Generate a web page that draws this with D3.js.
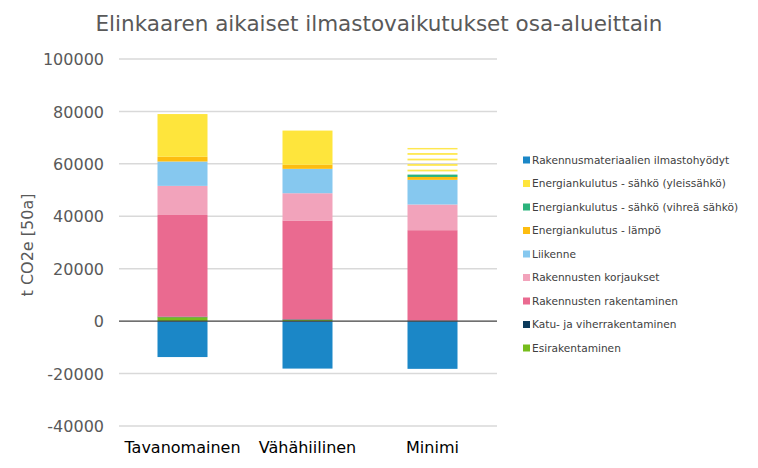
<!DOCTYPE html>
<html><head><meta charset="utf-8">
<script src="https://cdn.jsdelivr.net/npm/d3@7"></script>
<style>body{margin:0;background:#fff}svg{display:block}</style>
</head><body>
<svg id="c" width="758" height="468"></svg>
<script>
const categories = ["Tavanomainen", "Vähähiilinen", "Minimi"];
const esirakentaminen = [1500, 500, 100];
const katuJaViher = [200, 200, 100];
const rakentaminen = [38800, 37700, 34500];
const korjaukset = [11100, 10400, 9800];
const liikenne = [9300, 9300, 9400];
const lampo = [1800, 1550, 1100];
const vihreaSahko = [0, 0, 900];
const yleisSahko = [16300, 13050, 10200];
const ilmastohyodyt = [-13700, -18100, -18200];
const yTicks = [-40000, -20000, 0, 20000, 40000, 60000, 80000, 100000];

const seriesDefs = [
  {key: "esi", name: "Esirakentaminen", values: esirakentaminen, color: "#76bd1d"},
  {key: "katu", name: "Katu- ja viherrakentaminen", values: katuJaViher, color: "#0c3a5b"},
  {key: "rak", name: "Rakennusten rakentaminen", values: rakentaminen, color: "#ea6a90"},
  {key: "kor", name: "Rakennusten korjaukset", values: korjaukset, color: "#f2a3bb"},
  {key: "lii", name: "Liikenne", values: liikenne, color: "#86c8ef"},
  {key: "lam", name: "Energiankulutus - lämpö", values: lampo, color: "#fdbd10"},
  {key: "vih", name: "Energiankulutus - sähkö (vihreä sähkö)", values: vihreaSahko, color: "#2bb37c"},
  {key: "yle", name: "Energiankulutus - sähkö (yleissähkö)", values: yleisSahko, color: "#fee53c"},
  {key: "hyo", name: "Rakennusmateriaalien ilmastohyödyt", values: ilmastohyodyt, color: "#1b87c7"}
];

const rows = categories.map((c, i) => {
  const r = {cat: c};
  seriesDefs.forEach(s => r[s.key] = s.values[i]);
  return r;
});

const svg = d3.select("#c");
const font = "DejaVu Sans, Verdana, sans-serif";

const x = d3.scaleBand().domain(categories).range([120, 495]).paddingInner(0.6).paddingOuter(0.3);
const y = d3.scaleLinear().domain([-40000, 100000]).range([426, 59]);

const defs = svg.append("defs");

// gridlines
svg.append("g").selectAll("line").data(yTicks.filter(t => t !== 0)).join("line")
  .attr("x1", 119).attr("x2", 497)
  .attr("y1", d => y(d)).attr("y2", d => y(d))
  .attr("stroke", "#d9d9d9").attr("stroke-width", 1.5);

// y tick labels via axis
const yAxis = svg.append("g").attr("transform", "translate(104,0)")
  .call(d3.axisLeft(y).tickValues(yTicks).tickSize(0).tickPadding(0).tickFormat(d => String(d)));
yAxis.select(".domain").remove();
yAxis.selectAll("text").attr("font-family", font).attr("font-size", 16).attr("fill", "#595959").attr("dy", "0.35em");

const stack = d3.stack().keys(seriesDefs.map(s => s.key)).offset(d3.stackOffsetDiverging);
const stacked = stack(rows);

stacked.forEach((layer, li) => {
  const s = seriesDefs[li];
  layer.forEach((d, i) => {
    const y0 = y(d[0]), y1 = y(d[1]);
    const h = Math.abs(y0 - y1);
    if (h <= 0) return;
    const top = Math.min(y0, y1);
    let fill = s.color;
    if (s.key === "yle" && categories[i] === "Minimi") {
      const pid = "stripe" + i;
      const p = defs.append("pattern").attr("id", pid).attr("patternUnits", "userSpaceOnUse")
        .attr("x", 0).attr("y", top - 0.2).attr("width", 10).attr("height", 5.5);
      p.append("rect").attr("width", 10).attr("height", 1.6).attr("fill", s.color);
      fill = "url(#" + pid + ")";
    }
    svg.append("rect")
      .attr("x", x(d.data.cat)).attr("width", x.bandwidth())
      .attr("y", top).attr("height", h)
      .attr("fill", fill);
  });
});

// zero line
svg.append("line").attr("x1", 119).attr("x2", 497).attr("y1", y(0)).attr("y2", y(0))
  .attr("stroke", "#404040").attr("stroke-width", 1.2);

// x labels
const xAxis = svg.append("g").attr("transform", "translate(0,447)")
  .call(d3.axisBottom(x).tickSize(0).tickPadding(0));
xAxis.select(".domain").remove();
xAxis.selectAll("text").attr("font-family", font).attr("font-size", 16).attr("fill", "#000").attr("dy", "0.35em");

// y label
svg.append("text").attr("transform", "translate(33,245) rotate(-90)")
  .attr("text-anchor", "middle").attr("font-family", font).attr("font-size", 16)
  .attr("fill", "#595959").text("t CO2e [50a]");

// title
svg.append("text").attr("x", 379).attr("y", 31).attr("text-anchor", "middle")
  .attr("font-family", font).attr("font-size", 21.5).attr("fill", "#595959")
  .text("Elinkaaren aikaiset ilmastovaikutukset osa-alueittain");

// legend
const legendOrder = seriesDefs.slice().reverse();
const lg = svg.append("g").selectAll("g").data(legendOrder).join("g")
  .attr("transform", (d, i) => `translate(523,${160 + i * 23.5})`);
lg.append("rect").attr("x", 0).attr("y", -3.5).attr("width", 7).attr("height", 7).attr("fill", d => d.color);
lg.append("text").attr("x", 9).attr("dy", "0.35em").attr("font-family", font).attr("font-size", 10.6)
  .attr("fill", "#404040").text(d => d.name);
</script>
</body></html>
